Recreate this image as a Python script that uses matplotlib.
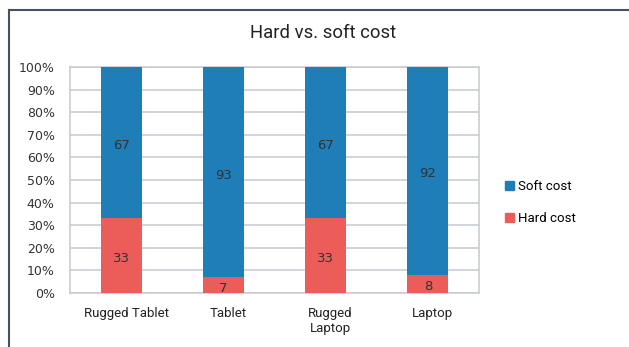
import numpy as np
import matplotlib.pyplot as plt
import matplotlib.transforms as mtransforms
from matplotlib.lines import Line2D
from matplotlib.patches import Patch

# Data
categories = ['Rugged Tablet', 'Tablet', 'Rugged\nLaptop', 'Laptop']
hard_cost = [33, 7, 33, 8]
soft_cost = [67, 93, 67, 92]
y_ticks = [0, 10, 20, 30, 40, 50, 60, 70, 80, 90, 100]

soft_color = '#1f7db8'
hard_color = '#ec5c59'
grid_color = '#c9cdd2'

fig = plt.figure(figsize=(6.29, 3.47), dpi=100)
ax = fig.add_axes([70/629, 1-293/347, 409/629, 226/347])

x = np.arange(len(categories))
ax.bar(x, hard_cost, width=0.4, color=hard_color, zorder=3)
ax.bar(x, soft_cost, width=0.4, bottom=hard_cost, color=soft_color, zorder=3)

# Data labels (sit a few pixels below the segment middle in the original)
down = ax.transData + mtransforms.ScaledTranslation(0, -3/100, fig.dpi_scale_trans)
for i in range(len(categories)):
    ax.text(x[i], hard_cost[i]/2, str(hard_cost[i]), ha='center', va='center',
            fontsize=9.5, color='#333333', family='DejaVu Sans', zorder=4, transform=down)
    ax.text(x[i], hard_cost[i] + soft_cost[i]/2, str(soft_cost[i]), ha='center', va='center',
            fontsize=9.5, color='#333333', family='DejaVu Sans', zorder=4, transform=down)

ax.set_xlim(-0.5, len(categories)-0.5)
ax.set_ylim(0, 100)
ax.set_yticks(y_ticks)
ax.set_yticklabels([f'{v}%' for v in y_ticks], family='DejaVu Sans', fontsize=9, color='#333333')
ax.set_xticks(x)
ax.set_xticklabels(categories, family='Roboto', fontsize=9.5, color='#222222', va='top')
ax.tick_params(axis='both', length=0)
ax.tick_params(axis='y', pad=11)
ax.tick_params(axis='x', pad=10)
# category labels sit a little right of the bar centres in the original
shift = mtransforms.ScaledTranslation(5/100, 0, fig.dpi_scale_trans)
for lbl in ax.get_xticklabels():
    lbl.set_transform(lbl.get_transform() + shift)
ax.yaxis.grid(True, color=grid_color, linewidth=1.2, zorder=0)
for s in ax.spines.values():
    s.set_color(grid_color)
    s.set_linewidth(1.2)

fig.text(323/629, 1-33/347, 'Hard vs. soft cost', ha='center', va='center',
         family='Roboto', fontsize=13.3, color='#222222')

handles = [Patch(color=soft_color), Patch(color=hard_color)]
fig.legend(handles, ['Soft cost', 'Hard cost'], loc='center left',
           bbox_to_anchor=(493/629, 1-202.5/347), frameon=False,
           prop={'family': 'Roboto', 'size': 9.5}, handlelength=0.7, handleheight=0.7,
           handletextpad=0.3, labelspacing=1.4)

# Outer border (left and top edges of the surrounding box)
fig.add_artist(Line2D([8.5/629, 8.5/629], [0, 1-10/347], transform=fig.transFigure,
                      color='#46535e', linewidth=1.5))
fig.add_artist(Line2D([8.5/629, 1], [1-10/347, 1-10/347], transform=fig.transFigure,
                      color='#46535e', linewidth=1.5))

fig.savefig('out.png', dpi=100)
